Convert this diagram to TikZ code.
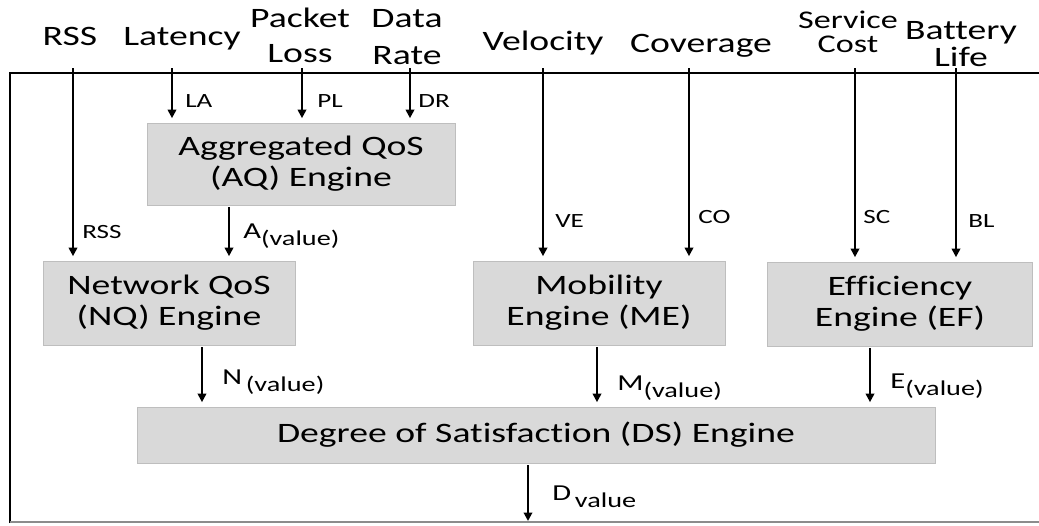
\documentclass[tikz,border=0pt]{standalone}
\usepackage{fontspec}
\setmainfont{Carlito}[FakeStretch=1.34, Ligatures=NoCommon]
\usetikzlibrary{arrows.meta, positioning}

\definecolor{enginefill}{RGB}{217,217,217}
\definecolor{engineline}{RGB}{190,190,190}
\newcommand{\lowsub}[1]{\raisebox{-4pt}{\fontsize{12}{12}\selectfont #1}}

\begin{document}
\begin{tikzpicture}[
  x=0.02cm, y=-0.02cm,
  every node/.style={font=\fontsize{16}{17.6}\selectfont},
  engine/.style={rectangle, draw=engineline, fill=enginefill, align=center, inner sep=0pt},
  inp/.style={align=center, inner sep=0pt},
  tag/.style={font=\fontsize{11.5}{12}\selectfont, anchor=base west, inner sep=0pt},
  outtag/.style={font=\fontsize{13}{14}\selectfont, anchor=base west, inner sep=0pt},
  arr/.style={-{Triangle[length=1.7mm, width=1.7mm]}, line width=1.1pt, shorten >=0.9mm}
]
\useasboundingbox (0,0) rectangle (1039,525);

% outer frame
\draw[line width=1.1pt] (10,523) -- (10,73) -- (1039,73);
\draw[black!45, line width=0.8pt] (10,522) -- (1039,522);

% engines
\node[engine, minimum width=6.16cm, minimum height=1.64cm] (aq) at (301,164) {Aggregated QoS\\(AQ) Engine};
\node[engine, minimum width=5.04cm, minimum height=1.68cm] (nq) at (169,303) {Network QoS\\(NQ) Engine};
\node[engine, minimum width=5.04cm, minimum height=1.68cm] (me) at (599,303) {Mobility\\Engine (ME)};
\node[engine, minimum width=5.3cm, minimum height=1.68cm] (ef) at (900,304) {Efficiency\\Engine (EF)};
\node[engine, minimum width=15.96cm, minimum height=1.12cm] (ds) at (536,435) {Degree of Satisfaction (DS) Engine};

% input parameters
\node[inp, anchor=base] (rss) at (70,45) {RSS};
\node[inp, anchor=base] (lat) at (182,45) {Latency};
\node[inp, anchor=south, font=\fontsize{16}{19.9}\selectfont] (pl) at (300,63) {Packet\\Loss};
\node[inp, anchor=south, font=\fontsize{16}{21}\selectfont] (dr) at (407,65) {Data\\Rate};
\node[inp, anchor=base] (vel) at (543,50) {Velocity};
\node[inp, anchor=base] (cov) at (701,52) {Coverage};
\node[inp, anchor=south, font=\fontsize{14.5}{13.6}\selectfont] (sc) at (848,53) {Service\\Cost};
\node[inp, anchor=south, font=\fontsize{16}{15.4}\selectfont] (bl) at (961,67) {Battery\\Life};

\coordinate (rss0) at (73,68);
\coordinate (la0) at (172,68);
\coordinate (pl0) at (302,68);
\coordinate (dr0) at (410,68);
\coordinate (ve0) at (543,68);
\coordinate (co0) at (689,68);
\coordinate (sc0) at (855,68);
\coordinate (bl0) at (956,68);
\coordinate (aout) at ([xshift=-1.44cm]aq.south);
\coordinate (nout) at ([xshift=0.66cm]nq.south);
\coordinate (mout) at ([xshift=-0.04cm]me.south);
\coordinate (eout) at ([xshift=-0.6cm]ef.south);
\coordinate (dend) at (528,521);

% inputs into engines
\draw[arr] (rss0) -- (nq.north -| rss0);
\draw[arr] (la0) -- (aq.north -| la0);
\draw[arr] (pl0) -- (aq.north -| pl0);
\draw[arr] (dr0) -- (aq.north -| dr0);
\draw[arr] (ve0) -- (me.north -| ve0);
\draw[arr] (co0) -- (me.north -| co0);
\draw[arr] (sc0) -- (ef.north -| sc0);
\draw[arr] (bl0) -- (ef.north -| bl0);

\node[tag] (rss-t) at (82,238) {RSS};
\node[tag] (la-t) at (185,107) {LA};
\node[tag] (pl-t) at (317,107) {PL};
\node[tag] (dr-t) at (418,107) {DR};
\node[tag] (ve-t) at (555,227) {VE};
\node[tag] (co-t) at (698,223) {CO};
\node[tag] (sc-t) at (863,223) {SC};
\node[tag] (bl-t) at (968,227) {BL};

% engine outputs
\draw[arr, shorten <=0.4mm] (aout) -- (nq.north -| aout);
\draw[arr, shorten <=0.4mm] (nout) -- (ds.north -| nout);
\draw[arr, shorten <=0.4mm] (mout) -- (ds.north -| mout);
\draw[arr, shorten <=0.4mm] (eout) -- (ds.north -| eout);
\draw[arr, shorten <=0.4mm, shorten >=0pt] (ds.south -| dend) -- (dend);

\node[outtag] (a-t) at (243,238) {A\lowsub{(value)}};
\node[outtag] (n-t) at (222,384) {N\,\lowsub{(value)}};
\node[outtag] (m-t) at (617,390) {M\lowsub{(value)}};
\node[outtag] (e-t) at (890,388) {E\lowsub{(value)}};
\node[outtag] (d-t) at (552,500) {D\,\lowsub{value}};
\end{tikzpicture}
\end{document}
